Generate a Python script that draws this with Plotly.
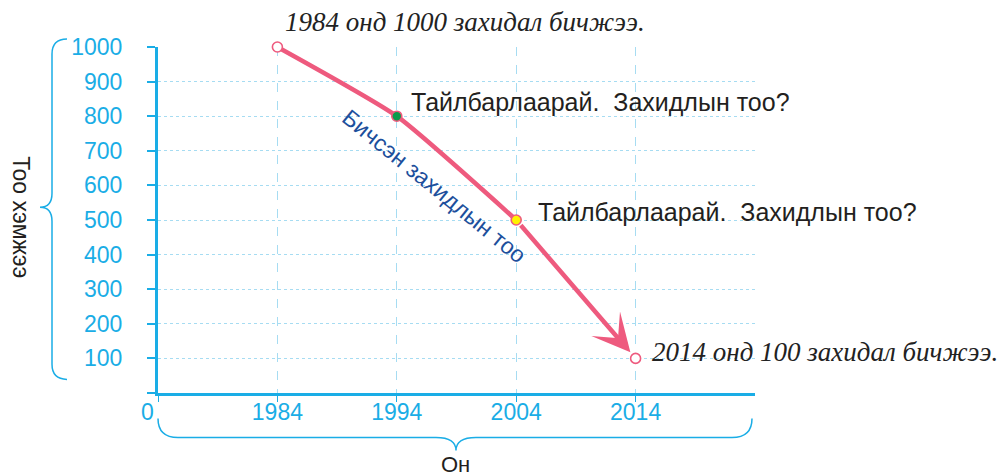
import plotly.graph_objects as go

# ---- data ----
years = [1984, 1994, 2004, 2014]
letters = [1000, 800, 500, 100]
x_tick_vals = [1974, 1984, 1994, 2004, 2014]
x_tick_text = ["", "1984", "1994", "2004", "2014"]
y_tick_vals = [0, 100, 200, 300, 400, 500, 600, 700, 800, 900, 1000]
y_tick_text = ["", "100", "200", "300", "400", "500", "600", "700", "800", "900", "1000"]
marker_fill = ["white", "#0B9A4B", "#FFF200", "white"]

caption_start = "1984 онд 1000 захидал бичжээ."
caption_end = "2014 онд 100 захидал бичжээ."
note_text = "Тайлбарлаарай.  Захидлын тоо?"
line_label = "Бичсэн захидлын тоо"
y_title = "Тоо хэмжээ"
x_title = "Он"

# ---- style ----
CYAN = "#1AADE6"
GRID = "#A6DCF2"
PINK = "#EE5A7E"
W, H = 1000, 476
L, R, T, B = 158, 755, 47, 392.6


def px(x):
    return (x - L) / (R - L)


def py(y):
    return (B - y) / (B - T)


def path(cmds):
    out = []
    for c in cmds:
        if isinstance(c, str):
            out.append(c)
        else:
            out.append(f"{px(c[0]):.5f},{py(c[1]):.5f}")
    return " ".join(out)


fig = go.Figure()

# curve through the first three points
fig.add_trace(go.Scatter(
    x=years[:3], y=letters[:3], mode="lines", cliponaxis=False,
    line=dict(color=PINK, width=4.5, shape="spline", smoothing=0.5),
    hoverinfo="skip", showlegend=False,
))
# markers
fig.add_trace(go.Scatter(
    x=years, y=letters, mode="markers", cliponaxis=False,
    marker=dict(size=10, color=marker_fill, line=dict(color=PINK, width=1.6)),
    showlegend=False,
))

annotations = []
# arrow for the last segment
annotations.append(dict(
    x=years[3], y=letters[3], ax=years[2], ay=letters[2],
    xref="x", yref="y", axref="x", ayref="y",
    text="", showarrow=True, arrowhead=3, arrowsize=1.4, arrowwidth=4.5,
    arrowcolor=PINK, standoff=8, startstandoff=5,
))

annotations += [
    dict(x=px(465), y=py(22), xref="paper", yref="paper", text=caption_start,
         showarrow=False, xanchor="center", yanchor="middle",
         font=dict(family="Liberation Serif", size=27, color="#222222", style="italic")),
    dict(x=px(650), y=py(352), xref="paper", yref="paper", text=caption_end,
         showarrow=False, xanchor="left", yanchor="middle",
         font=dict(family="Liberation Serif", size=27, color="#222222", style="italic")),
    dict(x=px(409), y=py(102), xref="paper", yref="paper", text=note_text,
         showarrow=False, xanchor="left", yanchor="middle",
         font=dict(family="Liberation Sans", size=25, color="#231F20")),
    dict(x=px(536), y=py(212), xref="paper", yref="paper", text=note_text,
         showarrow=False, xanchor="left", yanchor="middle",
         font=dict(family="Liberation Sans", size=25, color="#231F20")),
    dict(x=px(434), y=py(186), xref="paper", yref="paper", text=line_label,
         showarrow=False, xanchor="center", yanchor="middle", textangle=39,
         font=dict(family="Liberation Sans", size=23, color="#1D4F9C")),
    dict(x=px(21), y=py(217), xref="paper", yref="paper", text=y_title,
         showarrow=False, xanchor="center", yanchor="middle", textangle=90,
         font=dict(family="Liberation Sans", size=23, color="#231F20")),
    dict(x=px(455), y=py(464), xref="paper", yref="paper", text=x_title,
         showarrow=False, xanchor="center", yanchor="middle",
         font=dict(family="Liberation Sans", size=22, color="#231F20")),
    dict(x=px(147), y=py(412), xref="paper", yref="paper", text="0",
         showarrow=False, xanchor="center", yanchor="middle",
         font=dict(family="Liberation Sans", size=23, color=CYAN)),
]

shapes = [
    # left curly brace
    dict(type="path", xref="paper", yref="paper", line=dict(color=CYAN, width=1.5),
         path=path(["M", (67, 39), "Q", (52, 39), (52, 54), "L", (52, 193),
                    "Q", (52, 207), (40, 207), "Q", (52, 207), (52, 221),
                    "L", (52, 364), "Q", (52, 379), (67, 379)])),
    # bottom curly brace
    dict(type="path", xref="paper", yref="paper", line=dict(color=CYAN, width=1.5),
         path=path(["M", (158, 418), "Q", (158, 437), (178, 437), "L", (436, 437),
                    "Q", (456, 437), (456, 450), "Q", (456, 437), (476, 437),
                    "L", (732, 437), "Q", (752, 437), (752, 418)])),
]

fig.update_layout(
    width=W, height=H, autosize=False,
    margin=dict(l=L, r=W - R, t=T, b=H - B),
    paper_bgcolor="white", plot_bgcolor="white",
    annotations=annotations, shapes=shapes,
    xaxis=dict(
        range=[1974, 2024], tickmode="array", tickvals=x_tick_vals, ticktext=x_tick_text,
        showline=True, linecolor=CYAN, linewidth=3, zeroline=False,
        ticks="outside", ticklen=6, tickwidth=1, tickcolor=CYAN,
        showgrid=True, gridcolor=GRID, gridwidth=1, griddash="dash",
        tickfont=dict(family="Liberation Sans", size=23, color=CYAN),
        ticklabelstandoff=-10,
        minor=dict(tickmode="array", tickvals=[2024], showgrid=True, gridcolor=GRID,
                   griddash="dash", gridwidth=1, ticks=""),
    ),
    yaxis=dict(
        range=[0, 1000], tickmode="array", tickvals=y_tick_vals, ticktext=y_tick_text,
        showline=True, linecolor=CYAN, linewidth=3, zeroline=False,
        ticks="outside", ticklen=8, tickwidth=2, tickcolor=CYAN,
        showgrid=True, gridcolor=GRID, gridwidth=1, griddash="dot",
        tickfont=dict(family="Liberation Sans", size=23, color=CYAN),
        ticklabelstandoff=20,
    ),
)

fig.write_html(
    "out.html",
    config={"displayModeBar": False},
    post_script="document.body.style.margin='0';document.body.style.overflow='hidden';",
)
